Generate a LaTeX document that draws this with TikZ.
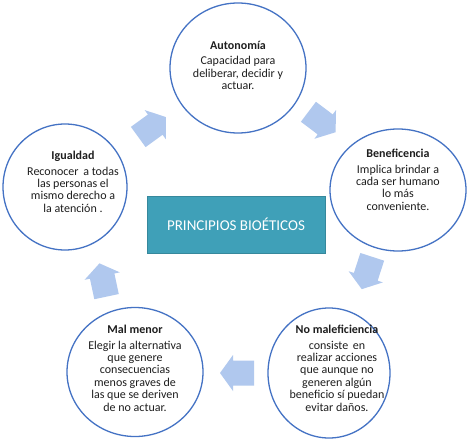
\documentclass[tikz,border=0pt]{standalone}
\usepackage{fontspec}
\setmainfont{Carlito}
\usetikzlibrary{shapes.geometric}
\definecolor{ringc}{HTML}{4472C4}
\definecolor{arw}{HTML}{B0C8EE}
\definecolor{tealc}{HTML}{3FA0B8}
\definecolor{txt}{HTML}{1E1E1E}
\begin{document}
\begin{tikzpicture}[x=1pt,y=-1pt,
  ringnode/.style={ellipse, draw=ringc, line width=1.3pt, inner sep=0pt},
  body/.style={align=center, text=txt, inner sep=0pt, font=\fontsize{12}{12.4}\selectfont},
  blockarrow/.pic={\fill[arw] (-17,-12.5) -- (4,-12.5) -- (4,-18) -- (17,0) -- (4,18) -- (4,12.5) -- (-17,12.5) -- cycle;}]
\useasboundingbox (0,0) rectangle (474,439);
\fill[white] (0,0) rectangle (474,439);
% circles
\node[ringnode, minimum width=136pt, minimum height=130pt] (aut) at (238,68) {};
\node[ringnode, minimum width=124pt, minimum height=126pt] (igu) at (65,187) {};
\node[ringnode, minimum width=136pt, minimum height=122pt] (ben) at (398,190) {};
\node[ringnode, minimum width=136pt, minimum height=129pt] (mal) at (135,372) {};
\node[ringnode, minimum width=122pt, minimum height=130pt] (nom) at (329,373) {};
% centre box
\node[draw=tealc!85!black, fill=tealc, line width=0.6pt, minimum width=178pt, minimum height=57pt, text=white, font=\fontsize{15}{16}\selectfont] (cen) at (236,224.5) {PRINCIPIOS BIOÉTICOS};
% texts
\node[body, anchor=north] (autt) at (238,41) {\textbf{Autonomía}\\[3pt]Capacidad para\\deliberar, decidir y\\actuar.};
\node[body, anchor=north] (igut) at (73,151) {\textbf{Igualdad}\\[3pt]Reconocer\ \,a todas\\las personas el\\mismo derecho a\\la atención .};
\node[body, anchor=north] (bent) at (398,149) {\textbf{Beneficencia}\\[3pt]Implica brindar a\\cada ser humano\\lo más\\conveniente.};
\node[body, anchor=north] (malt) at (135,325) {\textbf{Mal menor}\\[3pt]Elegir la alternativa\\que genere\\consecuencias\\menos graves de\\las que se deriven\\de no actuar.};
\node[body, anchor=north] (nomt) at (337,325) {\textbf{No maleficiencia}\\[3pt]consiste\ \,en\\realizar acciones\\que aunque no\\generen algún\\beneficio sí puedan\\evitar daños.};
% arrows
\pic[rotate=36] (a1) at (152,127) {blockarrow};
\pic[rotate=-37] (a2) at (322,122) {blockarrow};
\pic[rotate=-108] (a3) at (367,273) {blockarrow};
\pic[rotate=180] (a4) at (237,373) {blockarrow};
\pic[rotate=102] (a5) at (103,280) {blockarrow};
\end{tikzpicture}
\end{document}
